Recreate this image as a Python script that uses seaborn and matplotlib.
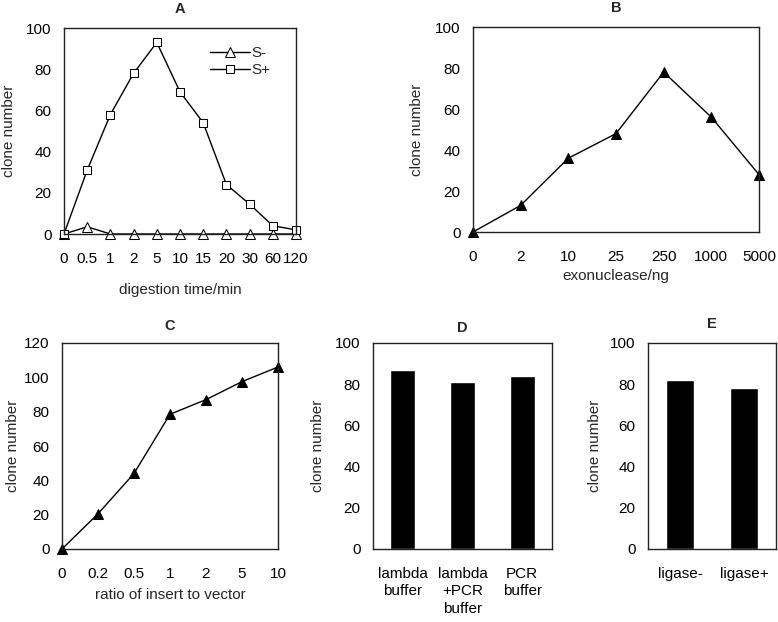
import pandas as pd
import numpy as np
import matplotlib.pyplot as plt
import seaborn as sns

# panel A: digestion time
time_labels = ['0', '0.5', '1', '2', '5', '10', '15', '20', '30', '60', '120']
s_minus = [0, 3.5, 0, 0, 0, 0, 0, 0, 0, 0, 0]
s_plus = [0, 31, 58, 78, 93, 69, 54, 24, 14.5, 4, 2]

# panel B: exonuclease amount
exo_labels = ['0', '2', '10', '25', '250', '1000', '5000']
exo_clones = [0, 13, 36, 48, 78, 56, 28]

# panel C: insert/vector ratio
ratio_labels = ['0', '0.2', '0.5', '1', '2', '5', '10']
ratio_clones = [0, 20.5, 44, 78.5, 87, 97.5, 106]

# panel D: buffers
buffer_labels = ['lambda\nbuffer', 'lambda\n+PCR\nbuffer', 'PCR\nbuffer']
buffer_clones = [87, 81, 84]

# panel E: ligase
ligase_labels = ['ligase-', 'ligase+']
ligase_clones = [82, 78]

sns.set_theme(style='white')
plt.rcParams['font.family'] = ['Liberation Sans', 'DejaVu Sans']
plt.rcParams['font.size'] = 11

W, H = 778, 622
fig = plt.figure(figsize=(W / 100, H / 100), dpi=100)


def add_ax(l, r, t, b):
    return fig.add_axes([l / W, (H - b) / H, (r - l) / W, (b - t) / H])


def style(ax, title, ymax, ylab_x, title_pad=11):
    # ylab_x: centre of the y label in figure pixels
    for s in ax.spines.values():
        s.set_color('#222222')
        s.set_linewidth(1.0)
    ax.tick_params(direction='in', length=3, color='#aaaaaa', labelsize=11,
                   labelcolor='black')
    ax.tick_params(axis='y', pad=9)
    ax.tick_params(axis='x', pad=13)
    ax.set_ylim(0, ymax)
    ax.set_yticks(np.arange(0, ymax + 1, 20))
    ax.set_ylabel('clone number', fontsize=11)
    bb = ax.get_position()
    # the label anchor sits on its right edge, about 7 px from the centre
    ax.yaxis.set_label_coords(((ylab_x + 7) / W - bb.x0) / bb.width, 0.5)
    ax.set_title(title, fontsize=10.5, fontweight='bold', pad=title_pad)


line_kw = dict(color='black', linewidth=1.0, sort=False)

# A
axA = add_ax(64, 296, 28, 234)
dfA = pd.DataFrame({'t': time_labels, 'S-': s_minus, 'S+': s_plus})
sns.lineplot(data=dfA, x='t', y='S-', ax=axA, marker='^', markersize=6.5,
             markerfacecolor='white', markeredgecolor='black', label='S-', **line_kw)
sns.lineplot(data=dfA, x='t', y='S+', ax=axA, marker='s', markersize=5.8,
             markerfacecolor='white', markeredgecolor='black', label='S+', **line_kw)
for l in axA.lines:
    l.set_clip_on(False)
axA.set_xlim(0, len(time_labels) - 1)
axA.set_xticks(range(len(time_labels)))
axA.set_xticklabels(time_labels)
style(axA, 'A', 100, 9)
axA.set_xlabel('digestion time/min', fontsize=11, labelpad=12)
axA.legend(loc='upper right', bbox_to_anchor=(0.95, 0.98), frameon=False, fontsize=11,
           handlelength=2.6, handletextpad=0.1, labelspacing=0.2)

# B
axB = add_ax(473, 759, 27, 232)
dfB = pd.DataFrame({'ng': exo_labels, 'n': exo_clones})
sns.lineplot(data=dfB, x='ng', y='n', ax=axB, marker='^', markersize=6.5,
             markerfacecolor='black', markeredgecolor='black', **line_kw)
for l in axB.lines:
    l.set_clip_on(False)
axB.set_xlim(0, len(exo_labels) - 1)
axB.set_xticks(range(len(exo_labels)))
axB.set_xticklabels(exo_labels)
style(axB, 'B', 100, 417)
axB.set_xlabel('exonuclease/ng', fontsize=11, labelpad=3.5)

# C
axC = add_ax(62, 278, 343, 549)
dfC = pd.DataFrame({'r': ratio_labels, 'n': ratio_clones})
sns.lineplot(data=dfC, x='r', y='n', ax=axC, marker='^', markersize=6.5,
             markerfacecolor='black', markeredgecolor='black', **line_kw)
for l in axC.lines:
    l.set_clip_on(False)
axC.set_xlim(0, len(ratio_labels) - 1)
axC.set_xticks(range(len(ratio_labels)))
axC.set_xticklabels(ratio_labels)
style(axC, 'C', 120, 13, title_pad=9)
axC.set_xlabel('ratio of insert to vector', fontsize=11, labelpad=5)

# D
axD = add_ax(373, 552, 343, 549)
dfD = pd.DataFrame({'b': buffer_labels, 'n': buffer_clones})
sns.barplot(data=dfD, x='b', y='n', ax=axD, color='black', width=0.42, saturation=1)
axD.set_xlim(-0.5, len(buffer_labels) - 0.5)
axD.set_xticks(np.arange(0.5, len(buffer_labels) - 0.5), minor=True)
style(axD, 'D', 100, 318, title_pad=8)
axD.tick_params(axis='x', which='major', length=0)
axD.tick_params(axis='x', which='minor', direction='in', length=3, color='#aaaaaa')
for lbl in axD.get_xticklabels():
    lbl.set_linespacing(1.3)
axD.set_xlabel('')

# E
axE = add_ax(648, 776, 343, 549)
dfE = pd.DataFrame({'g': ligase_labels, 'n': ligase_clones})
sns.barplot(data=dfE, x='g', y='n', ax=axE, color='black', width=0.43, saturation=1)
axE.set_xlim(-0.5, len(ligase_labels) - 0.5)
axE.set_xticks(np.arange(0.5, len(ligase_labels) - 0.5), minor=True)
style(axE, 'E', 100, 595)
axE.tick_params(axis='x', which='major', length=0)
axE.tick_params(axis='x', which='minor', direction='in', length=3, color='#aaaaaa')
axE.set_xlabel('')

fig.savefig('out.png', dpi=100)
